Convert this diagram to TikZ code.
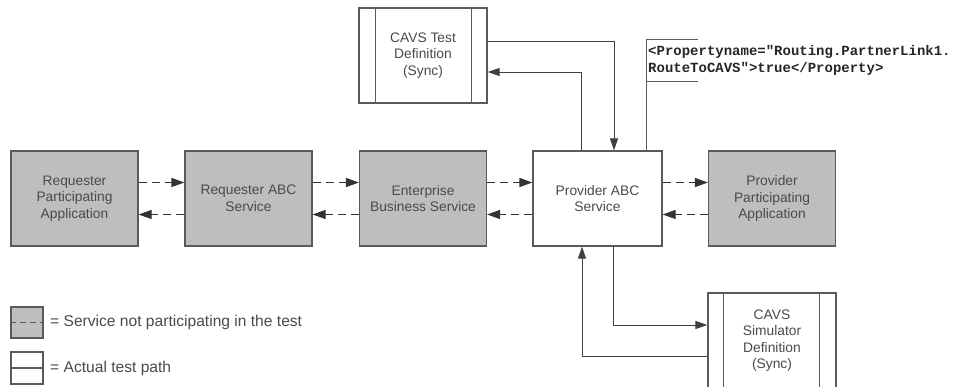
\documentclass[tikz,border=0pt]{standalone}
\usepackage{fontspec}
\setmainfont{Liberation Sans}
\newfontfamily\monob{Liberation Mono}
\usetikzlibrary{arrows.meta}
\definecolor{boxgray}{HTML}{BEBEBE}
\definecolor{linegray}{HTML}{5A5A5A}
\definecolor{txtgray}{HTML}{4A4A4A}
\tikzset{
  svc/.style={draw=linegray, line width=1.2pt, minimum width=127pt, minimum height=95pt,
    align=center, font=\fontsize{13.8}{16.5}\selectfont, text=txtgray, inner sep=0pt},
  grey/.style={svc, fill=boxgray},
  white/.style={svc, fill=white},
  defbox/.style={svc, fill=white, minimum width=128pt},
  dasharrow/.style={draw=black!80, line width=1.2pt, dash pattern=on 8pt off 5pt,
    -{Triangle[length=13pt,width=9pt]}},
  solarrow/.style={draw=black!75, line width=0.9pt, -{Triangle[length=12pt,width=8pt]}},
  noteline/.style={draw=linegray, line width=0.9pt},
  legtxt/.style={anchor=west, font=\fontsize{15.6}{18}\selectfont, text=txtgray, inner sep=0pt}
}
\begin{document}
\begin{tikzpicture}[x=1pt,y=-1pt]
\useasboundingbox (0,0) rectangle (953,387);
% main row
\node[grey]  (rpa)  at (74.5,198.5) {Requester\\Participating\\Application};
\node[grey]  (rabc) at (248.5,198.5) {Requester ABC\\Service};
\node[grey]  (ebs)  at (423,198.5) {Enterprise\\Business Service};
\node[white, minimum width=129pt] (pabc) at (597.5,198.5) {Provider ABC\\Service};
\node[grey]  (ppa)  at (772,198.5) {Provider\\Participating\\Application};
% definition boxes
\node[defbox] (cavs) at (423,55.5) {CAVS Test\\Definition\\(Sync)};
\draw[linegray, line width=1.2pt] ([xshift=17pt]cavs.north west) -- ([xshift=17pt]cavs.south west);
\draw[linegray, line width=1.2pt] ([xshift=-16pt]cavs.north east) -- ([xshift=-16pt]cavs.south east);
\node[defbox] (sim) at (772,340.5) {CAVS\\Simulator\\Definition\\(Sync)};
\draw[linegray, line width=1.2pt] ([xshift=16pt]sim.north west) -- ([xshift=16pt]sim.south west);
\draw[linegray, line width=1.2pt] ([xshift=-17pt]sim.north east) -- ([xshift=-17pt]sim.south east);
% dashed arrows
\draw[dasharrow] ([yshift=16pt]rpa.east) -- ([yshift=16pt]rabc.west);
\draw[dasharrow] ([yshift=-16pt]rabc.west) -- ([yshift=-16pt]rpa.east);
\draw[dasharrow] ([yshift=16pt]rabc.east) -- ([yshift=16pt]ebs.west);
\draw[dasharrow] ([yshift=-16pt]ebs.west) -- ([yshift=-16pt]rabc.east);
\draw[dasharrow] ([yshift=16pt]ebs.east) -- ([yshift=16pt]pabc.west);
\draw[dasharrow] ([yshift=-16pt]pabc.west) -- ([yshift=-16pt]ebs.east);
\draw[dasharrow] ([yshift=16pt]pabc.east) -- ([yshift=16pt]ppa.west);
\draw[dasharrow] ([yshift=-16pt]ppa.west) -- ([yshift=-16pt]pabc.east);
% test path
\draw[solarrow] ([yshift=14.5pt]cavs.east) -| ([xshift=16.5pt]pabc.north);
\draw[solarrow] ([xshift=-16.5pt]pabc.north) |- ([yshift=-16.5pt]cavs.east);
\draw[solarrow] ([xshift=15.5pt]pabc.south) |- ([yshift=15.5pt]sim.west);
\draw[solarrow] ([yshift=-15.5pt]sim.west) -| ([xshift=-15.5pt]pabc.south);
% property note
\coordinate (nt) at (646,39);
\coordinate (nb) at (646,81);
\draw[noteline] (nt) -- ([xshift=52pt]nt);
\draw[noteline] (nb) -- ([xshift=52pt]nb);
\draw[noteline] (nt) -- (nt |- pabc.north);
\node[anchor=west, align=left, inner sep=0pt, font=\monob\bfseries\fontsize{14}{16.5}\selectfont, text=black!85] (note) at (648,60.5)
  {<Propertyname="Routing.PartnerLink1.\\RouteToCAVS">true</Property>};
% legend
\node[draw=linegray, line width=1.2pt, fill=boxgray, minimum width=32pt, minimum height=31pt, inner sep=0pt] (lg1) at (27,322.5) {};
\draw[linegray, line width=1.2pt, dash pattern=on 6pt off 4pt] (lg1.west) -- (lg1.east);
\node[draw=linegray, line width=1.2pt, fill=white, minimum width=32pt, minimum height=32pt, inner sep=0pt] (lg2) at (27,368) {};
\draw[linegray, line width=1.2pt] (lg2.west) -- (lg2.east);
\node[legtxt] (lt1) at (50,322.5) {= Service not participating in the test};
\node[legtxt] (lt2) at (50,368) {= Actual test path};
\end{tikzpicture}
\end{document}
